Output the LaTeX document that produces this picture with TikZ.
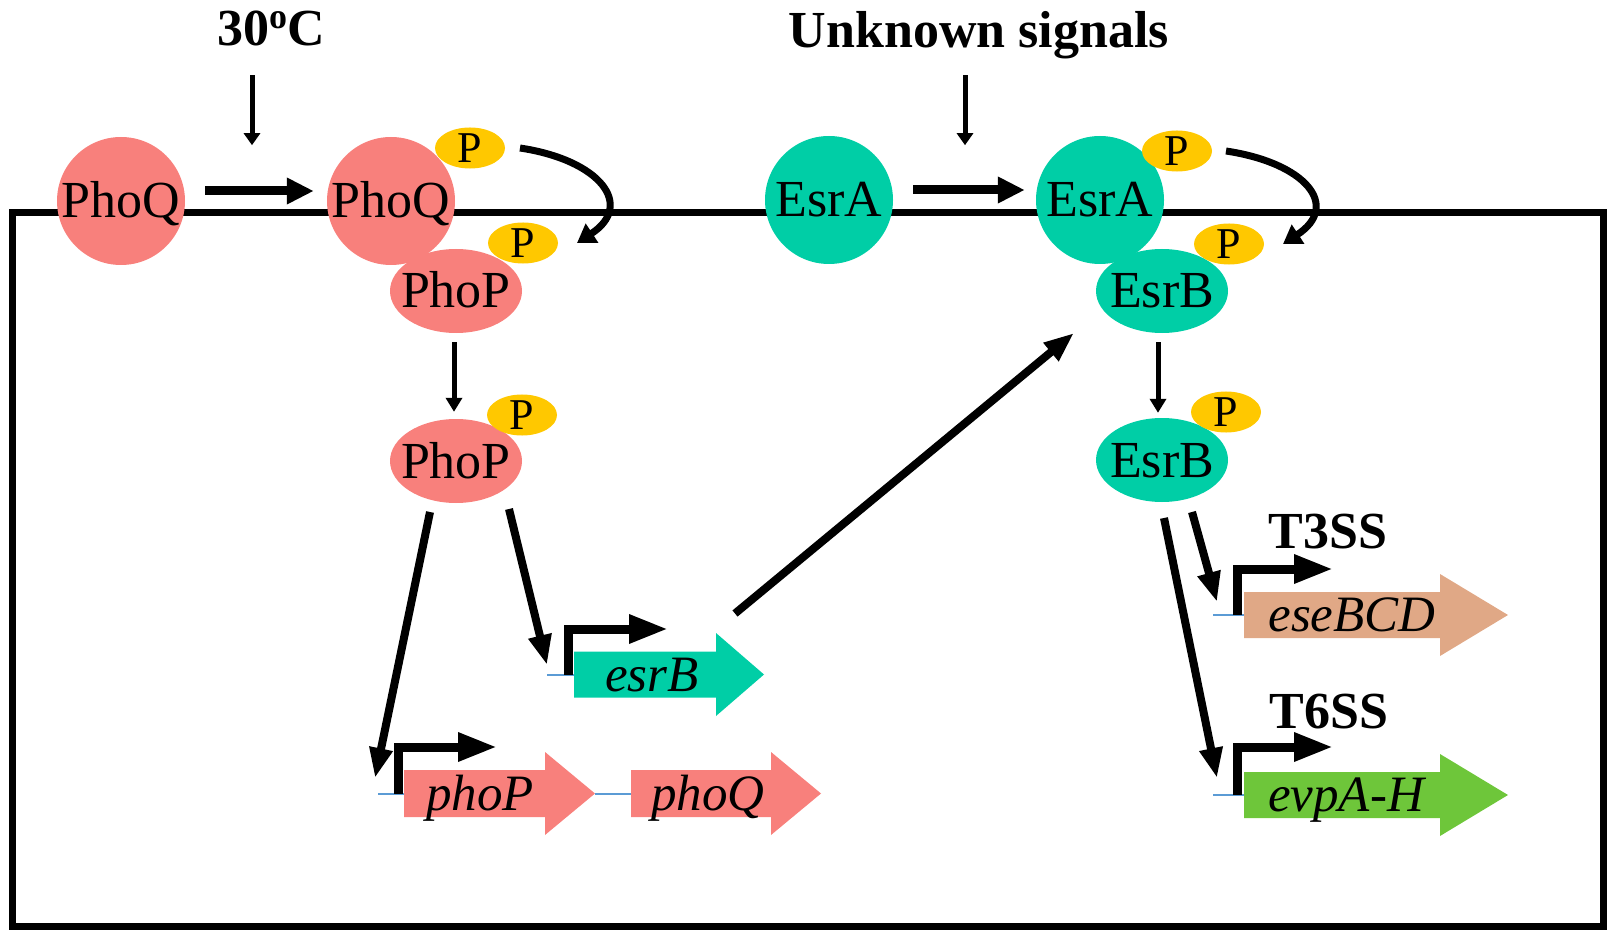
\documentclass[tikz,border=0pt]{standalone}
\usepackage{fontspec}
\setmainfont{Liberation Serif}
\usetikzlibrary{arrows.meta,shapes.geometric,calc}
\definecolor{pinkc}{RGB}{248,128,124}
\definecolor{tealc}{RGB}{0,206,166}
\definecolor{goldc}{RGB}{255,200,0}
\definecolor{tanc}{RGB}{224,168,134}
\definecolor{greenc}{RGB}{110,198,58}
\definecolor{bluec}{RGB}{91,155,213}
\newcommand{\bigfont}{\fontsize{52}{56}\selectfont}
\newcommand{\pfont}{\fontsize{44}{48}\selectfont}
\newcommand{\genefont}{\fontsize{51}{56}\selectfont\itshape}
\newcommand{\degsign}{\raisebox{17pt}{\fontsize{36}{36}\selectfont o}}
% colour, x0, x body end, x tip, y centre, body half height, head half height
\newcommand{\genearrow}[7]{\fill[#1] (#2,#5-#6) -- (#3,#5-#6) -- (#3,#5-#7) -- (#4,#5) -- (#3,#5+#7) -- (#3,#5+#6) -- (#2,#5+#6) -- cycle;}
\begin{document}
\begin{tikzpicture}[x=1pt,y=-1pt,
  prot/.style={circle,fill=#1,minimum size=128pt,inner sep=0pt,font=\bigfont,text height=34pt,text depth=0pt},
  regu/.style={ellipse,fill=#1,minimum width=132pt,minimum height=84pt,inner xsep=-9pt,inner ysep=0pt,font=\bigfont,text height=34pt,text depth=0pt},
  phos/.style={ellipse,fill=goldc,minimum width=70pt,minimum height=41pt,inner xsep=-6pt,inner ysep=0pt,font=\pfont,text height=29pt,text depth=0pt},
  lbl/.style={font=\bigfont\bfseries,inner sep=0pt,text height=34pt,text depth=0pt},
  glbl/.style={font=\genefont,inner sep=0pt,text height=33pt,text depth=0pt},
  sigarr/.style={line width=5pt,-{Triangle[length=12pt,width=16pt]}},
  memarr/.style={line width=9pt,-{Triangle[length=27pt,width=25pt]}},
  downarr/.style={line width=5pt,-{Triangle[length=14pt,width=16pt]}},
  bigarr/.style={line width=8pt,-{Triangle[length=30pt,width=22pt]}},
  curvarr/.style={line width=7pt,-{Triangle[length=18pt,width=22pt]}},
  promarr/.style={line width=9pt,line join=miter,-{Triangle[length=39pt,width=27pt]}},
  spacer/.style={bluec,line width=2pt}
]
\useasboundingbox (0,0) rectangle (1617,941);
% cell
\draw[line width=7pt] (12.5,212.5) rectangle (1603,926.5);

% signals
\node[lbl] (t30) at (271,29) {30\degsign C};
\node[lbl] (tun) at (979,31) {Unknown signals};

% proteins
\node[prot=pinkc] (phoq1) at (121,201) {PhoQ};
\node[prot=pinkc] (phoq2) at (391,201) {PhoQ};
\node[regu=pinkc] (phop1) at (456,291) {PhoP};
\node[regu=pinkc] (phop2) at (456,461) {PhoP};
\node[phos] (p1) at (470,148) {P};
\node[phos] (p2) at (523,243) {P};
\node[phos] (p3) at (522,415) {P};

\node[prot=tealc] (esra1) at (829,200) {EsrA};
\node[prot=tealc] (esra2) at (1100,200) {EsrA};
\node[regu=tealc] (esrb1) at (1162,291) {EsrB};
\node[regu=tealc] (esrb2) at (1162,460) {EsrB};
\node[phos] (q1) at (1177,151) {P};
\node[phos] (q2) at (1229,244) {P};
\node[phos] (q3) at (1226,412) {P};

% genes
\genearrow{tealc}{574}{716}{764}{674.5}{23}{41.5}
\genearrow{pinkc}{404}{545}{595}{793.5}{23.5}{41.5}
\genearrow{pinkc}{631}{771}{821}{793.5}{23.5}{41.5}
\genearrow{tanc}{1244}{1440}{1508}{615}{23}{41}
\genearrow{greenc}{1244}{1440}{1508}{795}{23}{41}
\node[glbl] (gesrB) at (652,674.5) {esrB};
\node[glbl] (gphoP) at (480,793.5) {phoP};
\node[glbl] (gphoQ) at (708,793.5) {phoQ};
\node[glbl] (gese) at (1352,615) {eseBCD};
\node[glbl] (gevp) at (1346,795) {evpA-H};
\node[lbl] (t3ss) at (1328,531) {T3SS};
\node[lbl] (t6ss) at (1329,711) {T6SS};

% spacers
\draw[spacer] (547,674.5) -- (574,674.5);
\draw[spacer] (378,793.5) -- (404,793.5);
\draw[spacer] (595,793.5) -- (631,793.5);
\draw[spacer] (1213,615) -- (1244,615);
\draw[spacer] (1213,795) -- (1244,795);

% promoters
\draw[promarr] (568,674.5) -- (568,629) -- (668,629);
\draw[promarr] (398,793.5) -- (398,747) -- (497,747);
\draw[promarr] (1237,615) -- (1237,569) -- (1333,569);
\draw[promarr] (1237,795) -- (1237,747) -- (1333,747);

% signal arrows
\draw[sigarr] ($(t30.south)+(-19,29)$) -- ($(t30.south)+(-19,99)$);
\draw[sigarr] ($(tun.south)+(-14,27)$) -- ($(tun.south)+(-14,97)$);

% membrane activation
\draw[memarr] ($(phoq1.east)+(20,-10)$) -- ($(phoq2.west)+(-13,-10)$);
\draw[memarr] ($(esra1.east)+(20,-10)$) -- ($(esra2.west)+(-11,-10)$);

% phosphotransfer
\draw[curvarr] ($(p1)+(50,0)$) .. controls ($(p1)+(130,12)$) and ($(p2)+(112,-38)$) .. ($(p2)+(54,0)$);
\draw[curvarr] ($(q1)+(49,0)$) .. controls ($(q1)+(129,12)$) and ($(q2)+(112,-38)$) .. ($(q2)+(54,0)$);

% release
\draw[downarr] ($(phop1.south)+(-2,9)$) -- ($(phop2.north)+(-2,-7)$);
\draw[downarr] ($(esrb1.south)+(-4,9)$) -- ($(esrb2.north)+(-4,-5)$);

% regulation
\draw[bigarr] ($(phop2)+(-26,51)$) -- ($(gphoP)+(-105,-15.5)$);
\draw[bigarr] ($(phop2)+(53,48)$) -- ($(gesrB)+(-105,-9.5)$);
\draw[bigarr] ($(gesrB)+(83,-61)$) -- ($(esrb1)+(-88,42)$);
\draw[bigarr] ($(esrb2)+(30,52)$) -- ($(gese)+(-135,-13)$);
\draw[bigarr] ($(esrb2)+(2,58)$) -- ($(gevp)+(-129,-17)$);
\end{tikzpicture}
\end{document}
